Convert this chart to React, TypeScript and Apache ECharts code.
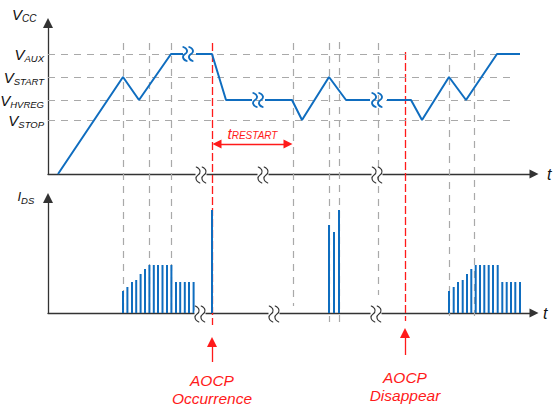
import React, { useEffect, useRef } from 'react';
import * as echarts from 'echarts';

const FONT = '"Liberation Sans", Arial, Helvetica, sans-serif';
const BLUE = '#0f6dbf';
const RED = '#ff1a1a';
const GUIDE_GRAY = '#a9a9a9';
const AXIS = '#333333';
const TEXT = '#111111';

// ---- Upper panel: VCC waveform (time units, VCC units) ----
const levelNames = ['AUX', 'START', 'HVREG', 'STOP'];
const levelValues = [120, 97, 74, 54];
const levelLineEnd = 462;

// '-' marks a broken (skipped) time span
const vccWave = [
  [10, 0], [75, 97], [91, 74], [123, 120], [135, 120],
  [142, '-'],
  [148, 120], [164, 120], [178, 74], [204, 74],
  [210, '-'],
  [217, 74], [244, 74], [254, 54], [281, 97], [298, 74], [322, 74],
  [330, '-'],
  [339, 74], [363, 74], [374, 54], [401, 97], [418, 74], [449, 120], [472, 120],
];
const vccBreakPoints = [[140, 120], [210, 74], [329, 74]];
const timeAxisBreaks = [[153, 0], [215, 0], [329, 0]];

// ---- Lower panel: IDS pulses ----
const burstTimes1 = [75, 79.4, 84, 88.2, 92.6, 97, 101.4, 105.8, 110, 114.5, 119, 123.4, 128, 132.2, 136.8, 141, 145.6];
const burstTimes2 = [401, 405.7, 410, 414.7, 419, 423.3, 427.7, 432, 436.3, 440.7, 445, 449.7, 454.3, 458.7, 463, 467.3, 472];
const burstHeights = [22, 26, 31, 33, 39, 44, 48, 48, 48, 48, 48, 48, 31, 31, 31, 31, 31];
const aocpPulseTimes = [164];
const aocpPulseHeights = [103];
const restartPulseTimes = [281, 286, 291];
const restartPulseHeights = [88, 81, 103];
const idsAxisBreaks = [[152, 0], [226, 0], [328, 0]];

// ---- Guides spanning both panels (time, vertical extent in overlay units) ----
const guideTimes = [75, 101, 123, 245, 281, 291, 330, 401, 426];
const guideTops = [43, 43, 43, 43, 43, 42, 43, 52, 50];
const guideBottoms = [313, 313, 313, 306, 322, 322, 295, 316, 316];
const aocpTimes = [164, 357];
const aocpTops = [43, 52];
const aocpBottoms = [325, 321];
const aocpArrowTips = [342, 333];
const aocpArrowTails = [362, 355];
const aocpLabels = ['AOCP\nOccurrence', 'AOCP\nDisappear'];
const aocpLabelGaps = [9, 13.5];
const restartFrom = [169, 144];
const restartTo = [240, 144];

const BREAK_D = 'M1 0 C5 2 5 6 2.5 8 C0 10 0 14 4 16 M6 0 C10 2 10 6 7.5 8 C5 10 5 14 9 16';

function App() {
  const ref = useRef<HTMLDivElement>(null);

  useEffect(() => {
    if (!ref.current) return;
    const chart = echarts.init(ref.current, undefined, { renderer: 'svg' });

    const levelRich = {
      v: { fontSize: 15, lineHeight: 15, padding: [0, 0, 4, 0], verticalAlign: 'top', fontStyle: 'italic', fontFamily: FONT, color: TEXT },
      s: { fontSize: 9.5, lineHeight: 9, padding: [6.5, 0, 0, 0], verticalAlign: 'top', fontStyle: 'italic', fontFamily: FONT, color: TEXT },
    };
    const restartRich = {
      t: { fontSize: 15, lineHeight: 15, verticalAlign: 'bottom', fontStyle: 'italic', fontFamily: FONT, color: RED },
      s: { fontSize: 10, lineHeight: 9, verticalAlign: 'bottom', fontStyle: 'italic', fontFamily: FONT, color: RED },
    };

    const axisCommon = {
      axisTick: { show: false },
      axisLabel: { show: false },
      splitLine: { show: false },
    };

    const xAxisPanel = (gridIndex: number, nameGap: number) => ({
      type: 'value', gridIndex, min: 0, max: 486,
      ...axisCommon,
      name: 't', nameLocation: 'end', nameGap,
      nameTextStyle: { fontSize: 16, fontStyle: 'italic', fontFamily: FONT, color: TEXT, verticalAlign: 'middle' },
      axisLine: { show: true, symbol: ['none', 'triangle'], symbolSize: [9, 9], lineStyle: { color: AXIS, width: 1.3 } },
    });
    const yAxisPanel = (gridIndex: number, max: number) => ({
      type: 'value', gridIndex, min: 0, max,
      ...axisCommon,
      axisLine: { show: true, symbol: ['none', 'triangle'], symbolSize: [10, 10], lineStyle: { color: AXIS, width: 1.3 } },
    });

    const breakSeries = (xi: number, yi: number, pts: number[][], color: string, lw: number, h: number, dy: number, mask: boolean) => ({
      type: 'custom', xAxisIndex: xi, yAxisIndex: yi, data: pts, clip: false, silent: true, z: 6,
      renderItem: (_p: any, api: any) => {
        const p = api.coord([api.value(0), api.value(1)]);
        const children: any[] = [];
        if (mask) {
          children.push({ type: 'rect', shape: { x: p[0] - 5.5, y: p[1] - 2.5, width: 11, height: 5 }, style: { fill: '#ffffff' } });
        }
        children.push({
          type: 'path',
          shape: { pathData: BREAK_D, x: p[0] - 5, y: p[1] + dy - h / 2, width: 10, height: h, layout: 'cover' },
          style: { fill: 'none', stroke: color, lineWidth: lw, lineCap: 'round' },
        });
        return { type: 'group', children };
      },
    });

    const carrier = (xi: number, yi: number) => ({
      type: 'line', xAxisIndex: xi, yAxisIndex: yi, data: [[0, 0]], showSymbol: false, silent: true,
      lineStyle: { opacity: 0 },
    });

    const barData = [
      ...burstTimes1.map((t, i) => [t, burstHeights[i]]),
      ...aocpPulseTimes.map((t, i) => [t, aocpPulseHeights[i]]),
      ...restartPulseTimes.map((t, i) => [t, restartPulseHeights[i]]),
      ...burstTimes2.map((t, i) => [t, burstHeights[i]]),
    ];

    chart.setOption({
      animation: false,
      backgroundColor: '#ffffff',
      grid: [
        { left: 48, top: 23, width: 486, height: 151, outerBoundsMode: 'none' },
        { left: 48, top: 198, width: 486, height: 115, outerBoundsMode: 'none' },
        { left: 48, top: 0, width: 486, height: 406, outerBoundsMode: 'none' },
      ],
      xAxis: [
        xAxisPanel(0, 13),
        xAxisPanel(1, 9),
        { type: 'value', gridIndex: 2, min: 0, max: 486, show: false },
      ],
      yAxis: [
        yAxisPanel(0, 151),
        yAxisPanel(1, 115),
        { type: 'value', gridIndex: 2, min: 0, max: 406, inverse: true, show: false },
      ],
      graphic: [
        {
          type: 'text', x: 12, y: 6.5, silent: true,
          style: {
            text: '{v|V}{s|CC}', align: 'left', verticalAlign: 'top',
            rich: {
              v: { fontSize: 15, lineHeight: 15, verticalAlign: 'top', fontStyle: 'italic', fontFamily: FONT, fill: TEXT },
              s: { fontSize: 10, lineHeight: 9, padding: [6.5, 0, 0, 0], verticalAlign: 'top', fontStyle: 'italic', fontFamily: FONT, fill: TEXT },
            },
          },
        },
        {
          type: 'text', x: 17.5, y: 190, silent: true,
          style: {
            text: '{v|I}{s|DS}', align: 'left', verticalAlign: 'top',
            rich: {
              v: { fontSize: 13, lineHeight: 13, verticalAlign: 'top', fontStyle: 'italic', fontFamily: FONT, fill: TEXT },
              s: { fontSize: 9.5, lineHeight: 8, padding: [5, 0, 0, 0], verticalAlign: 'top', fontStyle: 'italic', fontFamily: FONT, fill: TEXT },
            },
          },
        },
      ],
      series: [
        // gray vertical guides
        {
          ...carrier(2, 2),
          markLine: {
            z: 1, silent: true, symbol: ['none', 'none'], label: { show: false },
            lineStyle: { type: [7, 6], color: GUIDE_GRAY, width: 1.2 },
            data: guideTimes.map((t, i) => [{ coord: [t, guideTops[i]] }, { coord: [t, guideBottoms[i]] }]),
          },
        },
        // red dashed AOCP lines
        {
          ...carrier(2, 2),
          markLine: {
            z: 1, silent: true, symbol: ['none', 'none'], label: { show: false },
            lineStyle: { type: [8, 3], color: RED, width: 1.3 },
            data: aocpTimes.map((t, i) => [{ coord: [t, aocpTops[i]] }, { coord: [t, aocpBottoms[i]] }]),
          },
        },
        // horizontal level lines (upper panel)
        {
          ...carrier(0, 0),
          markLine: {
            z: 1, silent: true, symbol: ['none', 'none'],
            lineStyle: { type: [7, 6], color: GUIDE_GRAY, width: 1.2 },
            label: { show: true, position: 'start', distance: 4, rich: levelRich },
            data: levelValues.map((v, i) => [
              { coord: [0, v], label: { formatter: '{v|V}{s|' + levelNames[i] + '}' } },
              { coord: [levelLineEnd, v] },
            ]),
          },
        },
        // VCC waveform
        {
          type: 'line', xAxisIndex: 0, yAxisIndex: 0, data: vccWave, showSymbol: false, silent: true,
          connectNulls: false, z: 3,
          lineStyle: { color: BLUE, width: 2 },
        },
        // IDS pulses
        {
          type: 'bar', xAxisIndex: 1, yAxisIndex: 1, data: barData, barWidth: 2, silent: true, z: 3,
          itemStyle: { color: BLUE },
        },
        // AOCP arrows with labels
        {
          ...carrier(2, 2),
          markLine: {
            z: 5, silent: true, symbol: ['none', 'triangle'], symbolSize: [10, 10],
            lineStyle: { type: 'solid', color: RED, width: 1.3 },
            label: {
              show: true, position: 'start', color: RED, fontSize: 15.5, lineHeight: 18,
              fontStyle: 'italic', fontFamily: FONT,
            },
            data: aocpTimes.map((t, i) => [
              { coord: [t, aocpArrowTails[i]], label: { formatter: aocpLabels[i], distance: aocpLabelGaps[i] } },
              { coord: [t, aocpArrowTips[i]] },
            ]),
          },
        },
        // tRESTART double arrow
        {
          ...carrier(2, 2),
          markLine: {
            z: 5, silent: true, symbol: ['triangle', 'triangle'], symbolSize: [9, 9],
            lineStyle: { type: 'solid', color: RED, width: 1.3 },
            label: { show: true, position: 'middle', distance: 3.5, rich: restartRich, formatter: '{t|t}{s|RESTART}' },
            data: [[{ coord: restartFrom }, { coord: restartTo }]],
          },
        },
        breakSeries(0, 0, vccBreakPoints, BLUE, 1.8, 14, 0, false),
        breakSeries(0, 0, timeAxisBreaks, AXIS, 1.1, 16, 1, true),
        breakSeries(1, 1, idsAxisBreaks, AXIS, 1.1, 16, 1, true),
      ],
    });

    return () => chart.dispose();
  }, []);

  return (
    <div
      ref={ref}
      style={{ position: 'absolute', left: 0, top: 0, width: 554, height: 406, background: '#fff' }}
    />
  );
}

export default App;
